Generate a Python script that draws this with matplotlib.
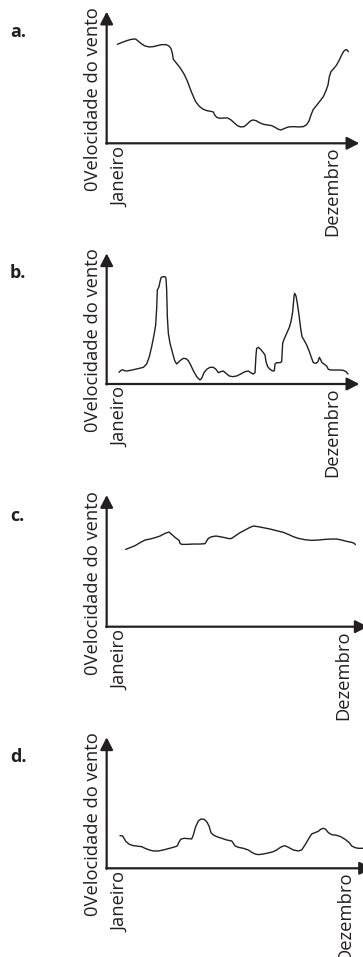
import matplotlib
matplotlib.use("Agg")
import matplotlib.pyplot as plt

plt.rcParams['font.family'] = ['Open Sans', 'DejaVu Sans']

# Wind-speed profiles over the year (arbitrary units: time along x, speed along y)
a_t = [32, 55, 70, 83, 88, 95, 105, 115, 128, 140, 152, 165, 178, 187, 193, 197, 200, 208, 220, 232,
       242, 250, 258, 267, 277, 288, 300, 312, 320, 324, 330, 340, 352, 363, 373, 382, 392, 402, 412, 422,
       430, 438, 448, 458, 470, 483, 495, 505, 515, 523, 532, 545, 560, 575, 590, 600, 607, 613, 620, 630,
       640, 650, 658, 664, 668, 673, 680, 690, 698, 705, 711, 717, 721, 725]
a_v = [297, 306, 311, 313, 312, 306, 298, 292, 289, 290, 293, 296, 296, 292, 284, 270, 252, 242, 227, 208,
       187, 165, 145, 125, 112, 103, 98, 96, 94, 85, 78, 75, 76, 76, 70, 62, 53, 49, 50, 58,
       66, 70, 68, 62, 57, 55, 53, 48, 42, 40, 44, 49, 50, 49, 50, 56, 67, 85, 102, 114,
       127, 140, 158, 175, 200, 215, 223, 235, 250, 265, 276, 281, 280, 275]

b_t = [37, 42, 48, 53, 60, 72, 85, 98, 110, 120, 128, 135, 142, 147, 150, 152, 157, 160, 163, 168,
       175, 178, 180, 182, 185, 190, 198, 204, 210, 220, 230, 238, 245, 252, 260, 270, 280, 285, 292, 300,
       310, 320, 328, 335, 342, 350, 358, 368, 378, 390, 402, 415, 425, 432, 440, 445, 448, 450, 455, 462,
       470, 475, 478, 483, 490, 498, 503, 505, 510, 520, 525, 528, 532, 540, 548, 553, 558, 562, 564, 568,
       572, 577, 582, 586, 592, 600, 608, 615, 620, 628, 634, 638, 641, 646, 652, 660, 665, 672, 685, 698,
       710, 718, 724]
b_v = [35, 40, 43, 40, 39, 41, 44, 47, 50, 60, 82, 112, 147, 177, 227, 282, 292, 307, 319, 322,
       322, 317, 282, 202, 152, 122, 92, 70, 60, 70, 77, 76, 70, 57, 40, 22, 12, 17, 34, 44,
       50, 50, 44, 34, 37, 39, 32, 24, 22, 24, 30, 37, 39, 34, 30, 34, 87, 107, 110, 104,
       94, 87, 67, 52, 44, 39, 40, 60, 64, 64, 67, 122, 134, 152, 170, 187, 217, 262, 272, 264,
       242, 207, 167, 142, 132, 117, 97, 77, 64, 62, 67, 80, 75, 64, 60, 54, 44, 42, 42, 42,
       41, 37, 30]

c_t = [57, 70, 85, 100, 115, 130, 145, 160, 175, 187, 195, 205, 213, 218, 220, 225, 240, 260, 280, 295,
       300, 305, 315, 328, 340, 355, 368, 375, 385, 400, 415, 430, 440, 455, 470, 490, 510, 530, 545, 560,
       575, 595, 615, 635, 655, 675, 690, 705, 720, 735, 743, 746]
c_v = [232, 237, 243, 252, 260, 263, 267, 272, 280, 284, 277, 268, 262, 258, 250, 247, 247, 248, 248, 249,
       257, 265, 270, 272, 270, 267, 264, 265, 272, 282, 290, 298, 302, 300, 297, 293, 288, 283, 277, 270,
       265, 261, 259, 260, 262, 263, 263, 260, 256, 253, 250, 246]

d_t = [40, 48, 52, 58, 68, 80, 95, 105, 115, 128, 140, 155, 170, 185, 200, 212, 216, 222, 232, 245,
       255, 260, 267, 275, 283, 292, 300, 307, 313, 320, 330, 345, 360, 375, 380, 385, 395, 410, 425, 435,
       445, 455, 470, 485, 500, 510, 520, 530, 537, 545, 560, 575, 585, 595, 605, 615, 625, 635, 642, 650,
       657, 665, 675, 690, 702, 715, 728, 735, 745, 755, 769]
d_v = [98, 97, 90, 80, 72, 68, 66, 65, 60, 55, 52, 52, 55, 59, 63, 67, 77, 87, 90, 89,
       88, 100, 125, 142, 148, 147, 140, 127, 107, 100, 95, 90, 85, 82, 75, 67, 63, 60, 55, 48,
       43, 41, 43, 46, 50, 55, 62, 67, 67, 63, 55, 52, 55, 70, 87, 103, 107, 111, 117, 120,
       117, 107, 101, 99, 95, 87, 77, 67, 62, 60, 60]

panel_letters = ['a.', 'b.', 'c.', 'd.']
y_label = '0Velocidade do vento'
tick_labels = ['Janeiro', 'Dezembro']
tick_pos = [[40, 676], [40, 676], [40, 709], [40, 715]]
series = [(a_t, a_v), (b_t, b_v), (c_t, c_v), (d_t, d_v)]

# Layout (pixels): x-axis height of each panel, axis lengths in data units
W, H = 363, 957
origin_x = 106.67
axis_y = [143.3, 384.0, 626.7, 868.3]
x_len = [758, 758, 783, 796]
y_len = [395, 392, 395, 393]
UNIT = 1 / 3.0  # pixels per data unit

INK = '#231f20'
fig = plt.figure(figsize=(W / 100, H / 100), dpi=100)

for i, (t, v) in enumerate(series):
    wpx = x_len[i] * UNIT
    hpx = y_len[i] * UNIT
    ax = fig.add_axes([origin_x / W, (H - axis_y[i]) / H, wpx / W, hpx / H])
    ax.set_xlim(0, x_len[i])
    ax.set_ylim(0, y_len[i])
    for s in ax.spines.values():
        s.set_visible(False)
    ax.patch.set_alpha(0)

    ax.plot(t, v, color=INK, lw=1.0, solid_capstyle='round', clip_on=False)

    arrow = dict(arrowstyle='-|>,head_length=0.62,head_width=0.32', mutation_scale=12,
                 lw=1.6, color=INK, shrinkA=0, shrinkB=0)
    ax.annotate('', xy=(x_len[i], 0), xytext=(-1.5, 0), arrowprops=arrow, annotation_clip=False)
    ax.annotate('', xy=(0, y_len[i]), xytext=(0, -1.5), arrowprops=arrow, annotation_clip=False)

    ax.set_yticks([])
    ax.set_xticks(tick_pos[i])
    ax.set_xticklabels(tick_labels, rotation=90, fontsize=13.2, color=INK, va='top', ha='center')
    ax.tick_params(axis='x', length=0, pad=2.5)

    fig.text(93 / W, 1 - (axis_y[i] - 44) / H, y_label, rotation=90, fontsize=13.2,
             color=INK, ha='center', va='center')
    fig.text(10 / W, 1 - (axis_y[i] - 106) / H, panel_letters[i], fontsize=13,
             fontweight='bold', color=INK, ha='left', va='baseline')

fig.savefig('out.png', dpi=100)
